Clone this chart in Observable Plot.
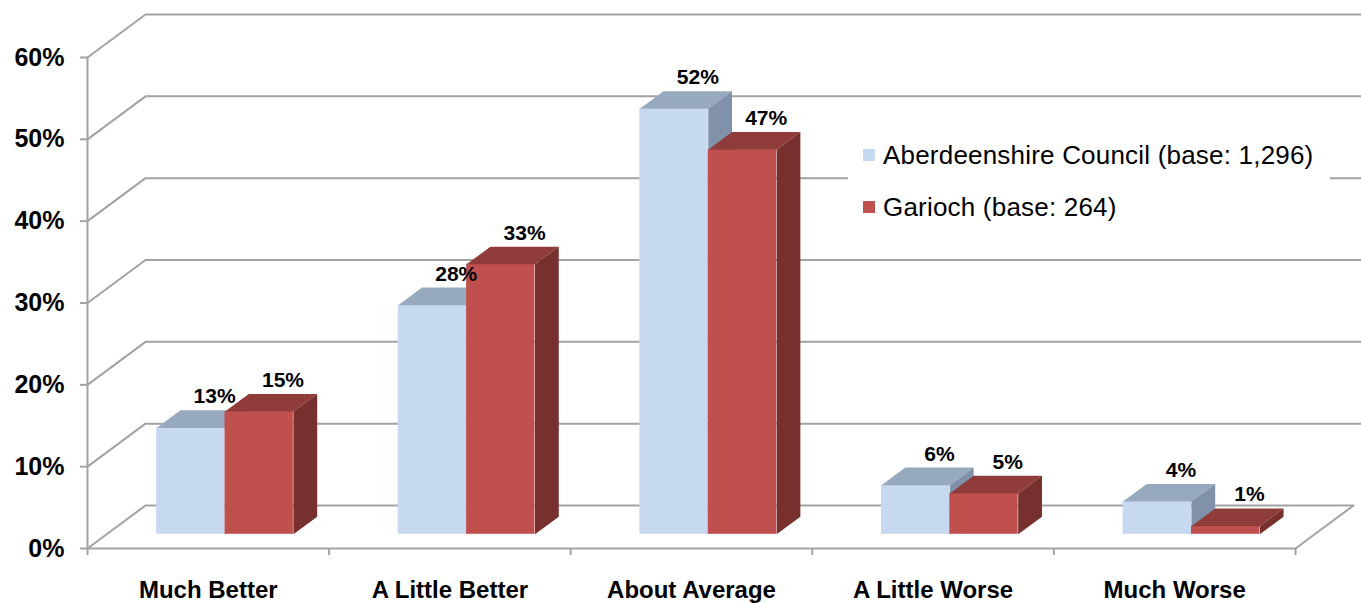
<!DOCTYPE html>
<html>
<head>
<meta charset="utf-8">
<script src="https://cdn.jsdelivr.net/npm/d3@7"></script>
<script src="https://cdn.jsdelivr.net/npm/@observablehq/plot@0.6"></script>
<style>
  html, body { margin: 0; padding: 0; background: #fff; }
  #wrap { position: relative; width: 1361px; height: 603px; overflow: hidden; font-family: "Liberation Sans", Arial, sans-serif; }
  #legend { position: absolute; left: 848px; top: 122px; width: 482px; height: 104px; background: #fff; }
  .item { position: absolute; left: 0; height: 30px; display: flex; align-items: center; }
  .sw { width: 12px; height: 12px; margin-left: 15px; margin-right: 8px; }
  .lab { font-size: 26px; letter-spacing: 0.2px; color: #000; white-space: nowrap; }
</style>
</head>
<body>
<div id="wrap"></div>
<script>
// ---- data ----
const categories = ["Much Better", "A Little Better", "About Average", "A Little Worse", "Much Worse"];
const seriesNames = ["Aberdeenshire Council (base: 1,296)", "Garioch (base: 264)"];
const aberdeenshire = [13, 28, 52, 6, 4];
const garioch = [15, 33, 47, 5, 1];
const yTicks = [0, 10, 20, 30, 40, 50, 60];

// ---- styles ----
const palette = [
  { front: "#C6D9F1", top: "#97A9BF", side: "#7F92A9" },
  { front: "#C0504D", top: "#8F3C3A", side: "#78302E" }
];
const gridColor = "#A3A3A3";
const W = 1361, H = 603, ML = 87, MR = 66, MT = 57, MB = 55;
const xUnit = (W - ML - MR) / categories.length;   // px per category
const yUnit = (H - MT - MB) / 60;                  // px per percentage point
const DX = 58 / xUnit, DY = 43 / yUnit;            // full floor depth in data units
const t0 = 0.33, t1 = 0.74;                        // bar depth band
const barW = 0.283, pairC = 0.49;

// ---- build bars ----
const bars = [];
[aberdeenshire, garioch].forEach((vals, s) => {
  vals.forEach((v, i) => {
    const x0 = i + pairC + (s === 0 ? -barW : 0) + t0 * DX;
    const x1 = x0 + barW;
    const b = t0 * DY;
    bars.push({ s, i, v, x0, x1, y0: b, y1: v + b });
  });
});
const dDX = (t1 - t0) * DX, dDY = (t1 - t0) * DY;
function faces(s) {
  const out = [];
  bars.filter(d => d.s === s).forEach(d => {
    const idT = `t${s}-${d.i}`, idS = `s${s}-${d.i}`;
    [[d.x0, d.y1], [d.x1, d.y1], [d.x1 + dDX, d.y1 + dDY], [d.x0 + dDX, d.y1 + dDY]]
      .forEach(([x, y]) => out.push({ id: idT, x, y, fill: palette[s].top }));
    [[d.x1, d.y0], [d.x1, d.y1], [d.x1 + dDX, d.y1 + dDY], [d.x1 + dDX, d.y0 + dDY]]
      .forEach(([x, y]) => out.push({ id: idS, x, y, fill: palette[s].side }));
  });
  return out;
}
const labels = bars.map(d => ({
  x: (d.x0 + d.x1) / 2 + dDX,
  y: d.y1 + dDY,
  text: d.v + "%"
}));

// ---- grid (walls) ----
const grid = [];
const xEnd = (W - ML) / xUnit + 0.05;
yTicks.forEach(v => {
  if (v === 0) {
    [[categories.length, 0], [categories.length + DX, DY], [DX, DY], [0, 0]]
      .forEach(([x, y]) => grid.push({ id: "g0", x, y }));
  } else {
    [[0, v], [DX, v + DY], [xEnd, v + DY]].forEach(([x, y]) => grid.push({ id: "g" + v, x, y }));
  }
});

const font = "Liberation Sans, Arial, sans-serif";
const chart = Plot.plot({
  width: W, height: H,
  marginLeft: ML, marginRight: MR, marginTop: MT, marginBottom: MB,
  style: { fontFamily: font, background: "transparent", overflow: "visible" },
  x: { type: "linear", domain: [0, categories.length], axis: null },
  y: { type: "linear", domain: [0, 60], axis: null },
  color: { type: "identity" },
  marks: [
    Plot.line(grid, { x: "x", y: "y", z: "id", stroke: gridColor, strokeWidth: 2 }),
    Plot.ruleY([0], { stroke: gridColor, strokeWidth: 2 }),
    Plot.ruleX([0], { stroke: gridColor, strokeWidth: 2 }),
    Plot.axisY({ ticks: yTicks, tickSize: 7, tickPadding: 16, tickFormat: d => d + "%",
      stroke: gridColor, strokeWidth: 2, fill: "#000", fontSize: 25, fontWeight: "bold", label: null }),
    Plot.axisX({ ticks: d3.range(categories.length + 1), tickSize: 7, tickFormat: () => "",
      stroke: gridColor, strokeWidth: 2, label: null }),
    Plot.axisX({ ticks: categories.map((c, i) => i + 0.5), tickSize: 0, tickPadding: 32,
      tickFormat: d => categories[Math.floor(d)], fill: "#000", fontSize: 24, fontWeight: "bold", label: null }),
    // Aberdeenshire bars
    Plot.rect(bars.filter(d => d.s === 0), { x1: "x0", x2: "x1", y1: "y0", y2: "y1", fill: palette[0].front }),
    Plot.line(faces(0), { x: "x", y: "y", z: "id", fill: "fill", stroke: null }),
    // Garioch bars
    Plot.rect(bars.filter(d => d.s === 1), { x1: "x0", x2: "x1", y1: "y0", y2: "y1", fill: palette[1].front }),
    Plot.line(faces(1), { x: "x", y: "y", z: "id", fill: "fill", stroke: null }),
    Plot.text(labels, { x: "x", y: "y", text: "text", lineAnchor: "bottom", dy: -7,
      fontSize: 21, fontWeight: "bold", fill: "#000", letterSpacing: "-0.5px" })
  ]
});
const wrap = document.getElementById("wrap");
wrap.appendChild(chart);

// ---- legend ----
const legend = document.createElement("div");
legend.id = "legend";
seriesNames.forEach((name, s) => {
  const it = document.createElement("div");
  it.className = "item";
  it.style.top = (s === 0 ? 18 : 70) + "px";
  it.innerHTML = `<span class="sw" style="background:${palette[s].front}"></span><span class="lab">${name}</span>`;
  legend.appendChild(it);
});
wrap.appendChild(legend);
</script>
</body>
</html>
